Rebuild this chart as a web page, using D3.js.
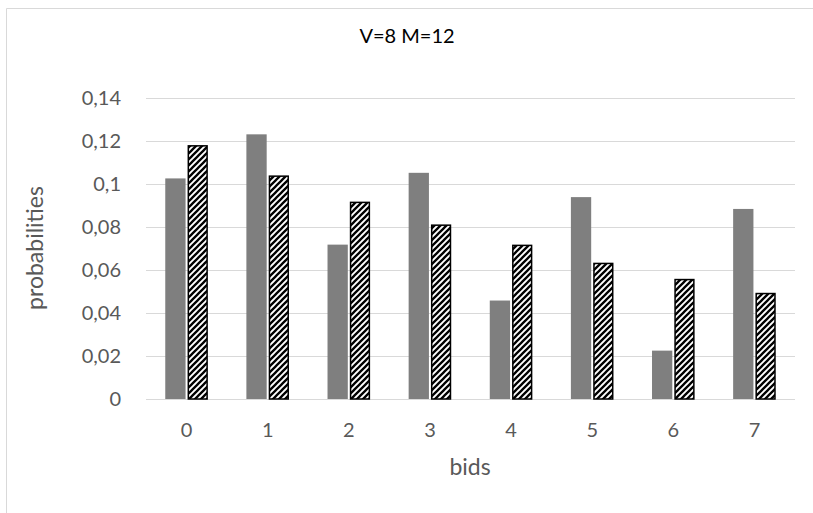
<!DOCTYPE html>
<html><head><meta charset="utf-8">
<script src="https://cdn.jsdelivr.net/npm/d3@7"></script>
<style>html,body{margin:0;padding:0;background:#fff;overflow:hidden;} svg{display:block;}</style>
</head><body>
<svg id="chart" width="813" height="513"></svg>
<script>
const categories = ["0","1","2","3","4","5","6","7"];
const seriesGray = [0.1026, 0.1231, 0.0718, 0.1052, 0.0458, 0.0939, 0.0225, 0.0884];
const seriesHatched = [0.1181, 0.1040, 0.0918, 0.0812, 0.0718, 0.0634, 0.0559, 0.0494];
const yTicks = [0, 0.02, 0.04, 0.06, 0.08, 0.1, 0.12, 0.14];
const titleText = "V=8 M=12";
const xTitle = "bids";
const yTitle = "probabilities";

(function(){
const font = "Lato, 'Open Sans', sans-serif";
const svg = d3.select("#chart");

// chart area border (top and left edges visible)
svg.append("path").attr("d","M6.5,513 L6.5,8.5 L813,8.5")
  .attr("fill","none").attr("stroke","#d9d9d9").attr("stroke-width",1);

const defs = svg.append("defs");
const pat = defs.append("pattern").attr("id","hatch").attr("patternUnits","userSpaceOnUse")
  .attr("width",6).attr("height",6);
pat.append("rect").attr("width",6).attr("height",6).attr("fill","#fff");
pat.append("path").attr("d","M0,6 L6,0 M-1,1 L1,-1 M5,7 L7,5")
  .attr("stroke","#000").attr("stroke-width",2.3);

const pL = 146, pR = 795, pT = 98, pB = 399;
const y = d3.scaleLinear().domain([0,0.14]).range([pB, pT]);
const x0 = d3.scaleBand().domain(categories).range([pL,pR]).paddingInner(0.475).paddingOuter(0.2375);
const x1 = d3.scaleBand().domain(["g","h"]).range([0, x0.bandwidth()]).paddingInner(0.09);

// gridlines
svg.append("g").selectAll("line").data(yTicks).join("line")
  .attr("x1",pL).attr("x2",pR)
  .attr("y1",d=>Math.round(y(d))+0.5).attr("y2",d=>Math.round(y(d))+0.5)
  .attr("stroke","#d9d9d9").attr("stroke-width",1);

// y axis labels
const fmt = d => d === 0 ? "0" : String(+d.toFixed(2)).replace(".", ",");
svg.append("g").selectAll("text").data(yTicks).join("text")
  .attr("x",121).attr("y",d=>y(d)).attr("dy","0.35em")
  .attr("text-anchor","end").attr("font-family",font).attr("font-size",20)
  .attr("fill","#595959").text(fmt);

// bars
svg.append("g").selectAll("rect").data(categories).join("rect")
  .attr("x",(c)=>x0(c)+x1("g")).attr("width",x1.bandwidth())
  .attr("y",(c,i)=>y(seriesGray[i])).attr("height",(c,i)=>y(0)-y(seriesGray[i]))
  .attr("fill","#7f7f7f");
svg.append("g").selectAll("rect").data(categories).join("rect")
  .attr("x",(c)=>x0(c)+x1("h")+0.75).attr("width",x1.bandwidth()-1.5)
  .attr("y",(c,i)=>y(seriesHatched[i])+0.75).attr("height",(c,i)=>y(0)-y(seriesHatched[i])-0.75)
  .attr("fill","url(#hatch)").attr("stroke","#000").attr("stroke-width",1.5);

// x axis labels
svg.append("g").selectAll("text").data(categories).join("text")
  .attr("x",c=>x0(c)+x0.bandwidth()/2).attr("y",430).attr("dy","0.35em")
  .attr("text-anchor","middle").attr("font-family",font).attr("font-size",20)
  .attr("fill","#595959").text(d=>d);

// titles
svg.append("text").attr("x",407).attr("y",36).attr("dy","0.35em").attr("text-anchor","middle")
  .attr("font-family",font).attr("font-size",20).attr("fill","#000").text(titleText);
svg.append("text").attr("x",470).attr("y",467).attr("dy","0.35em").attr("text-anchor","middle")
  .attr("font-family",font).attr("font-size",23).attr("fill","#595959").text(xTitle);
svg.append("text").attr("transform","translate(35,248) rotate(-90)").attr("dy","0.35em")
  .attr("text-anchor","middle").attr("font-family",font).attr("font-size",23)
  .attr("fill","#595959").text(yTitle);
})();
</script>
</body></html>
